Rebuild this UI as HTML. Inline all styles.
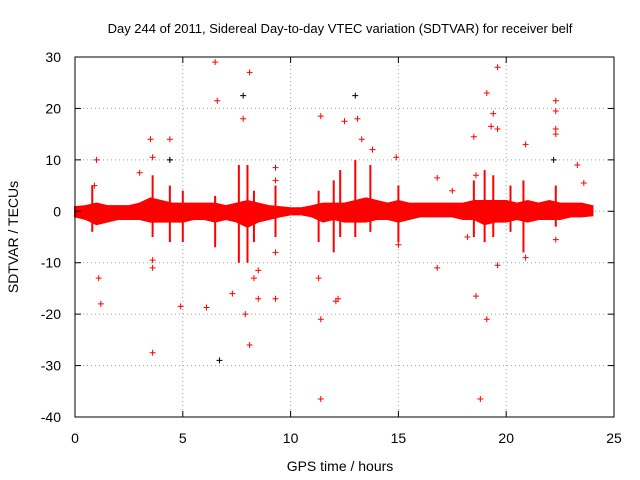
<!DOCTYPE html>
<html><head><meta charset="utf-8">
<style>
body{margin:0;background:#fff;}
svg{display:block;font-family:"Liberation Sans",sans-serif;}
</style></head>
<body>
<svg id="chart" width="640" height="480" viewBox="0 0 640 480">
  <rect width="640" height="480" fill="#fff"/>
  <text x="340" y="33" font-size="13" text-anchor="middle">Day 244 of 2011, Sidereal Day-to-day VTEC variation (SDTVAR) for receiver belf</text>
  <g id="grid"></g>
  <g id="marks"></g>
  <rect x="75" y="57" width="539" height="360" fill="none" stroke="#000"/>
  <g id="ticks"></g>
  <text x="340" y="471" font-size="14" text-anchor="middle">GPS time / hours</text>
  <text transform="translate(18,237) rotate(-90)" font-size="14" text-anchor="middle">SDTVAR / TECUs</text>
</svg>
<script>
const xTicks=[0,5,10,15,20,25];
const yTicks=[30,20,10,0,-10,-20,-30,-40];
const bandHours=[0,0.5,1,1.5,2,2.5,3,3.5,4,4.5,5,5.5,6,6.5,7,7.5,8,8.5,9,9.5,10,10.5,11,11.5,12,12.5,13,13.5,14,14.5,15,15.5,16,16.5,17,17.5,18,18.5,19,19.5,20,20.5,21,21.5,22,22.5,23,23.5,24];
const bandUpper=[0.8,1,1.5,1,1,1,1.5,2.5,2,1.5,1.5,1.5,1.5,1.5,1,1.5,2,1.5,1,0.8,0.6,0.6,1,1.5,1.5,1.5,2,2.5,2,1.5,2,1.5,1.5,1.5,1.5,1.5,1.5,2,2,2,2,1.5,2,1.5,2,1.5,1.5,1.5,1];
const bandLower=[-1,-1.5,-2.5,-2,-1.5,-1.5,-1.5,-2,-2,-2,-2,-1.5,-1.5,-2,-1.5,-2,-3,-2,-1.5,-1,-0.6,-0.6,-1,-2,-1.5,-2,-2,-2,-1.5,-1.5,-2,-1.5,-1,-1,-1,-1,-1.5,-1.5,-2.5,-2,-2,-1.5,-2,-1.5,-1.5,-1.5,-1,-1,-0.8];
const spikeX=[0.8,3.6,4.4,5,6.5,7.6,8,8.3,9.3,11.3,12,12.3,13,13.7,15,18.5,19,19.4,20.2,20.8,22.3];
const spikeTop=[5,7,5,4,3,9,9,4,5,4,6,8,10,9,5,6,8,7,5,6,5];
const spikeBottom=[-4,-5,-6,-6,-7,-10,-10,-6,-5,-6,-8,-5,-5,-4,-6,-5,-6,-5,-4,-8,-3];
const outX=[1,1.1,1.2,0.9,3,3.5,3.6,3.6,3.6,3.6,4.4,4.4,4.9,6.1,6.5,6.6,7.3,7.8,7.9,8.1,8.1,8.5,9.3,9.3,9.3,9.3,8.5,8.3,11.4,11.4,11.4,11.3,12.1,12.2,12.5,13,13.1,13.3,13.8,14.9,15,16.8,16.8,18.6,18.8,19.1,19.1,19.3,19.4,19.6,19.6,19.6,20.9,20.9,22.3,22.3,22.3,22.3,22.3,23.3,23.6,18.5,18.6,17.5,18.2,7.8,6.7,22.2,4.4];
const outY=[10,-13,-18,5,7.5,14,10.5,-9.5,-11,-27.5,14,10,-18.5,-18.7,29,21.5,-16,18,-20,27,-26,-17,-17,-8,8.5,6,-11.5,-13,18.5,-21,-36.5,-13,-17.5,-17,17.5,22.5,18,14,12,10.5,-6.5,-11,6.5,-16.5,-36.5,23,-21,16.5,19,28,16,-10.5,-9,13,21.5,19.5,16,15,-5.5,9,5.5,14.5,7,4,-5,22.5,-29,10,10];
const outBlack=[0,0,0,0,0,0,0,0,0,0,0,0,0,0,0,0,0,0,0,0,0,0,0,0,0,0,0,0,0,0,0,0,0,0,0,1,0,0,0,0,0,0,0,0,0,0,0,0,0,0,0,0,0,0,0,0,0,0,0,0,0,0,0,0,0,1,1,1,1];
const X=v=>75+v*539/25, Y=v=>57+(30-v)*360/70;
const NS='http://www.w3.org/2000/svg';
function mk(t,a,p){const e=document.createElementNS(NS,t);for(const k in a)e.setAttribute(k,a[k]);p.appendChild(e);return e;}
const grid=document.getElementById('grid'),ticks=document.getElementById('ticks'),marks=document.getElementById('marks');
xTicks.forEach(v=>{
  if(v>0&&v<25){const g=mk('line',{x1:X(v),x2:X(v),y1:57,y2:417,stroke:'#a0a0a0','stroke-dasharray':'1,3'},grid);
  
  }
  mk('line',{x1:X(v),x2:X(v),y1:417,y2:411,stroke:'#000'},ticks);
  mk('line',{x1:X(v),x2:X(v),y1:57,y2:63,stroke:'#000'},ticks);
  const t=mk('text',{x:X(v),y:443,'font-size':14,'text-anchor':'middle'},ticks);t.textContent=v;
  
  
});
yTicks.forEach(v=>{
  if(v<30&&v>-40){const g=mk('line',{x1:75,x2:614,y1:Y(v),y2:Y(v),stroke:'#a0a0a0','stroke-dasharray':'1,3'},grid);
  
  }
  mk('line',{x1:75,x2:81,y1:Y(v),y2:Y(v),stroke:'#000'},ticks);
  mk('line',{x1:614,x2:608,y1:Y(v),y2:Y(v),stroke:'#000'},ticks);
  const t=mk('text',{x:61,y:Y(v)+5,'font-size':14,'text-anchor':'end'},ticks);t.textContent=v;
  
  
});
let d='M'+bandHours.map((h,i)=>X(h)+','+Y(bandUpper[i])).join(' L');
for(let i=bandHours.length-1;i>=0;i--)d+=' L'+X(bandHours[i])+','+Y(bandLower[i]);
const band=mk('path',{d:d+' Z',fill:'#ff0000',stroke:'#ff0000','stroke-width':2},marks);


spikeX.forEach((x,i)=>{
  const s=mk('line',{x1:X(x),x2:X(x),y1:Y(spikeTop[i]),y2:Y(spikeBottom[i]),stroke:'#ff0000','stroke-width':2},marks);
  
  
});
outX.forEach((x,i)=>{
  const cx=X(x),cy=Y(outY[i]),c=outBlack[i]?'#000':'#ff0000';
  const p=mk('path',{d:`M${cx-3},${cy} h6 M${cx},${cy-3} v6`,stroke:c,'stroke-width':1},marks);
  
  
});
</script>
</body></html>
